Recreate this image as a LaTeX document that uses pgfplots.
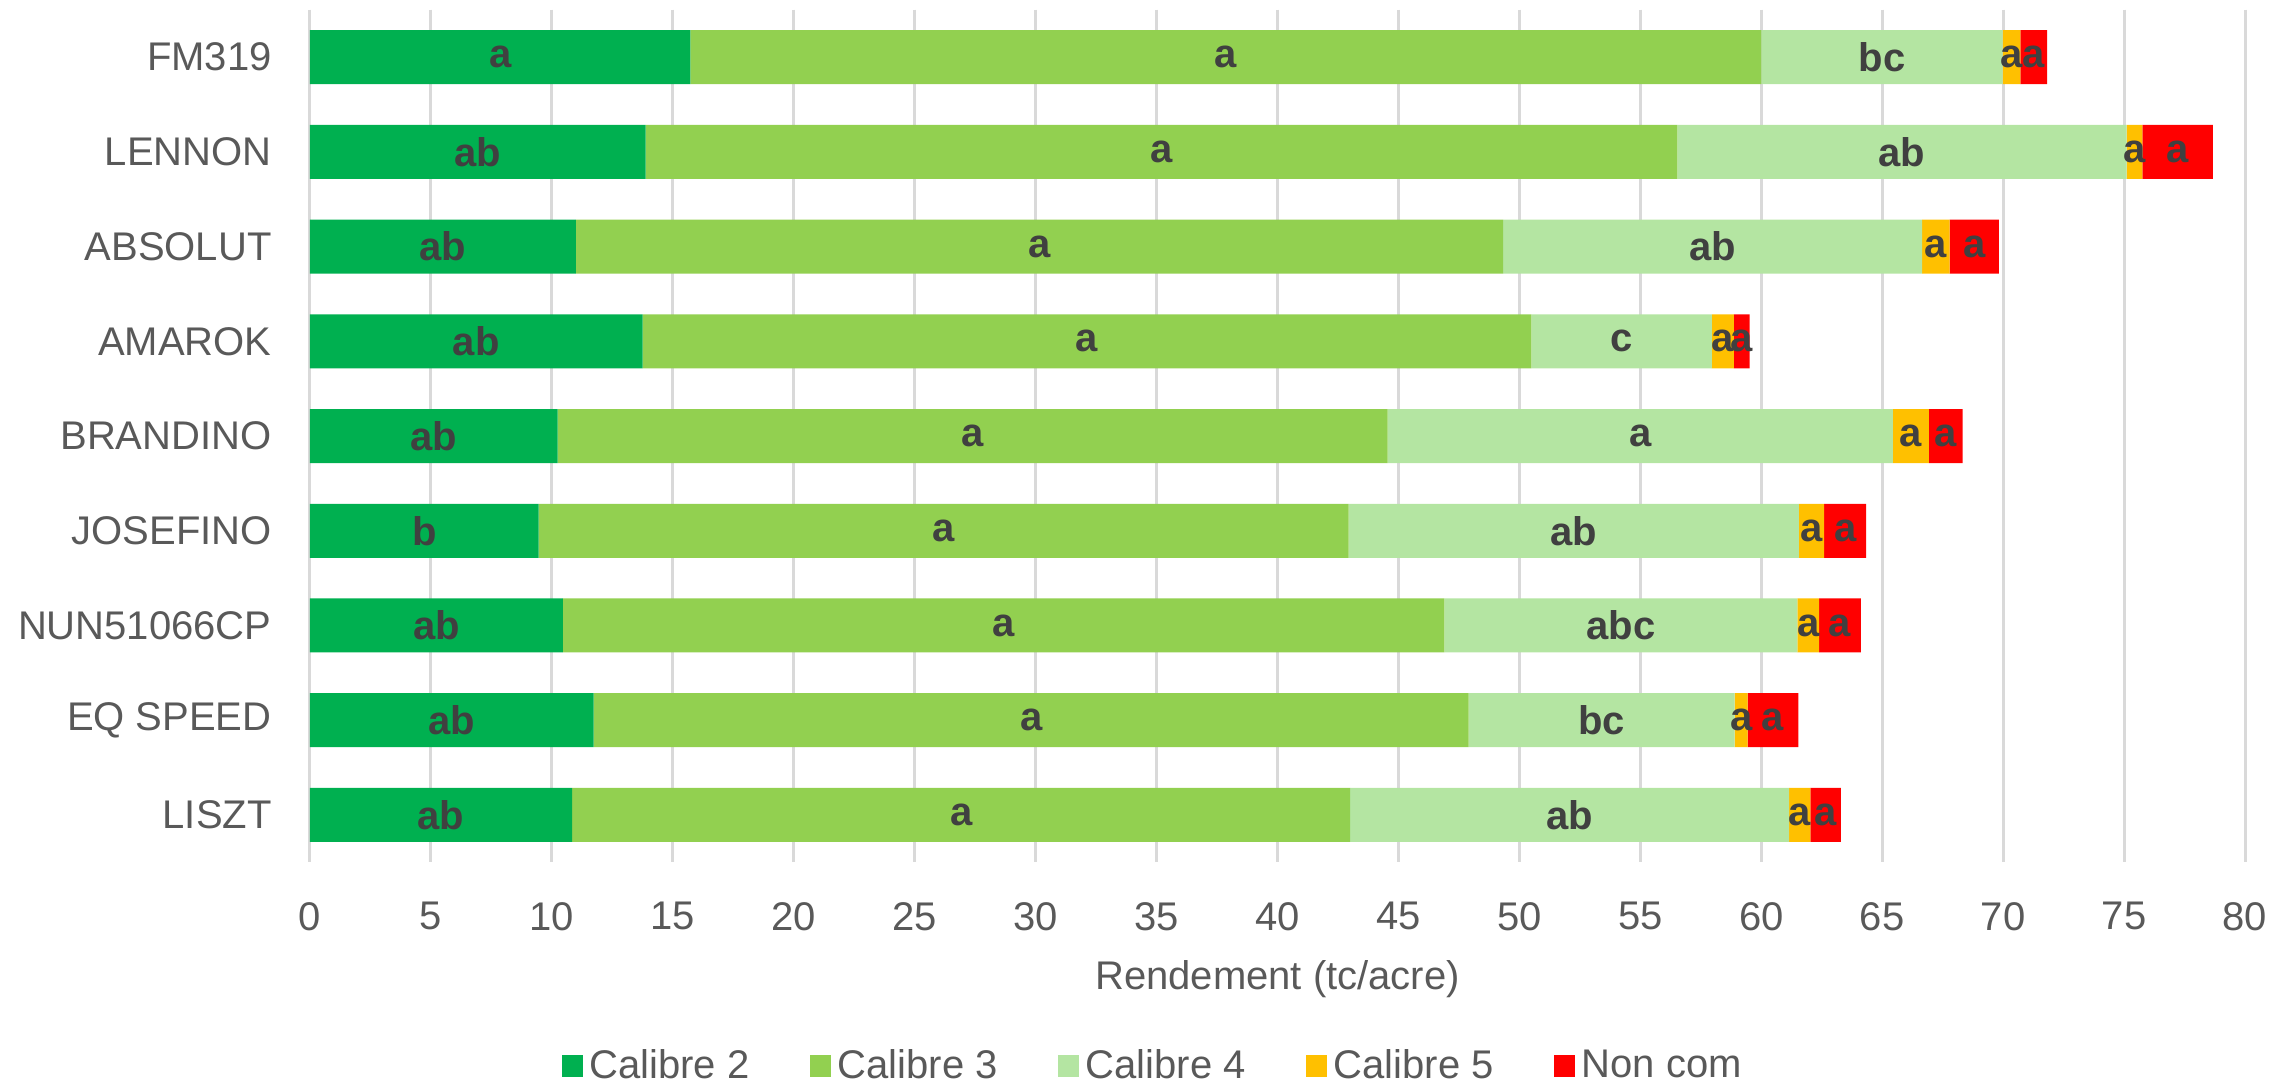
\documentclass[border=0pt]{standalone}
\usepackage{pgfplots}
\usepackage{pgfplotstable}
\pgfplotsset{compat=1.18}
\usepackage{fontspec}
\setmainfont{Liberation Sans}
\definecolor{cA}{HTML}{00B050}
\definecolor{cB}{HTML}{92D050}
\definecolor{cC}{HTML}{B4E5A2}
\definecolor{cD}{HTML}{FFC000}
\definecolor{cE}{HTML}{FF0000}
\definecolor{txt}{HTML}{595959}
\definecolor{lab}{HTML}{404040}
\definecolor{gridc}{HTML}{D9D9D9}

\pgfplotstableread{
idx c2 c3 c4 c5 nc l2 l3 l4 l5 ln
0 15.73 44.27 9.98 0.73 1.11 a a bc a a
1 13.88 42.65 18.58 0.65 2.91 ab a ab a a
2 10.99 38.34 17.32 1.14 2.03 ab a ab a a
3 13.75 36.75 7.46 0.91 0.65 ab a c a a
4 10.24 34.31 20.89 1.49 1.40 ab a a a a
5 9.45 33.49 18.62 1.04 1.74 b a ab a a
6 10.45 36.45 14.59 0.90 1.73 ab a abc a a
7 11.73 36.17 11.00 0.54 2.10 ab a bc a a
8 10.84 32.16 18.15 0.88 1.26 ab a ab a a
}\data

\begin{document}
\begin{tikzpicture}
\useasboundingbox (0,0) rectangle (682.5pt,325.8pt);
\begin{axis}[
  at={(93pt,67.1pt)}, anchor=south west,
  scale only axis, width=580.5pt, height=255.8pt,
  xbar stacked, bar width=16.2pt,
  xmin=0, xmax=80, ymin=-0.5, ymax=8.5, y dir=reverse,
  xtick={0,5,...,80}, ytick={0,...,8},
  yticklabels={FM319,LENNON,ABSOLUT,AMAROK,BRANDINO,JOSEFINO,NUN51066CP,EQ SPEED,LISZT},
  xmajorgrids, major grid style={gridc, line width=0.9pt},
  axis line style={draw=none}, major tick length=0pt,
  /pgf/number format/assume math mode=true,
  ticklabel style={font=\fontsize{12}{14}\selectfont, text=txt},
  xticklabel style={yshift=-8.4pt},
  yticklabel style={xshift=-8pt},
  xlabel={Rendement (tc/acre)},
  xlabel style={at={(axis description cs:0.5,0)}, anchor=center, yshift=-35pt, font=\fontsize{12}{14}\selectfont, text=txt},
  legend style={at={(0.4367,-0.239)}, anchor=center, draw=none, legend columns=5,
    font=\fontsize{12}{14}\selectfont, text=txt,
    /tikz/every even column/.append style={column sep=16pt}},
  legend image code/.code={\draw[#1,draw=none] (0pt,-3.2pt) rectangle (6.4pt,3.2pt);},
  point meta=explicit symbolic,
  nodes near coords,
  every node near coord/.append style={anchor=center, font=\bfseries\fontsize{12}{14}\selectfont, text=lab},
]
\addplot[fill=cA, draw=none] table[x=c2, y=idx, meta=l2] {\data};
\addplot[fill=cB, draw=none] table[x=c3, y=idx, meta=l3] {\data};
\addplot[fill=cC, draw=none] table[x=c4, y=idx, meta=l4] {\data};
\addplot[fill=cD, draw=none] table[x=c5, y=idx, meta=l5] {\data};
\addplot[fill=cE, draw=none] table[x=nc, y=idx, meta=ln] {\data};
\legend{Calibre 2, Calibre 3, Calibre 4, Calibre 5, Non com}
\end{axis}
\end{tikzpicture}
\end{document}
